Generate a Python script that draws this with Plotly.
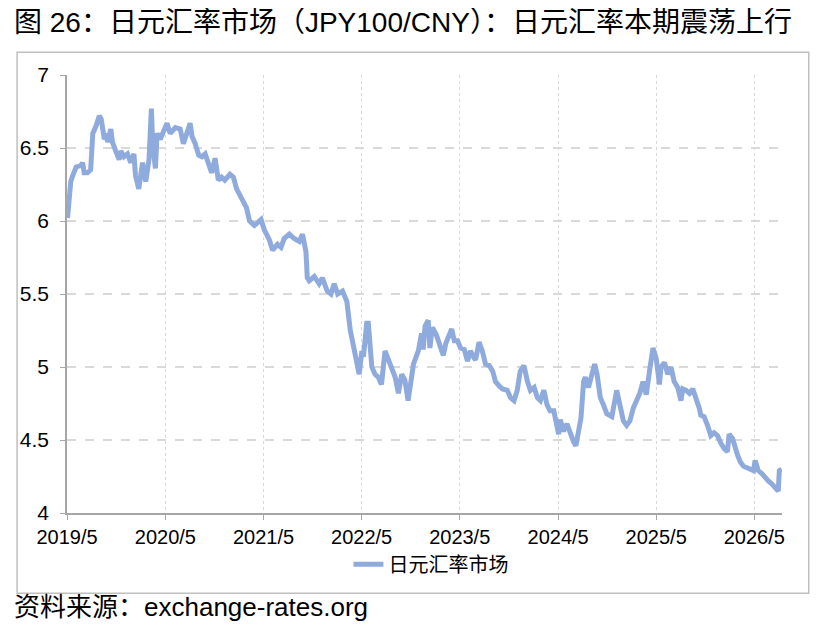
import plotly.graph_objects as go

# 日元汇率 (JPY100/CNY), values
dates = [
    "2019-05-03", "2019-05-09", "2019-05-15", "2019-05-22", "2019-06-04", "2019-06-22", "2019-06-28",
    "2019-07-04", "2019-07-16", "2019-07-28", "2019-08-05", "2019-08-17", "2019-08-29", "2019-09-05",
    "2019-09-11", "2019-09-17", "2019-09-23", "2019-09-29", "2019-10-11", "2019-10-17", "2019-10-29",
    "2019-11-11", "2019-11-17", "2019-11-29", "2019-12-12", "2019-12-24", "2020-01-05", "2020-01-11",
    "2020-01-23", "2020-02-06", "2020-02-18", "2020-03-01", "2020-03-10", "2020-03-15", "2020-03-25",
    "2020-03-31", "2020-04-12", "2020-04-24", "2020-05-07", "2020-05-19", "2020-06-07", "2020-06-25",
    "2020-07-07", "2020-07-25", "2020-08-01", "2020-08-08", "2020-08-20", "2020-09-02", "2020-09-14",
    "2020-09-26", "2020-10-08", "2020-10-20", "2020-11-02", "2020-11-14", "2020-11-26", "2020-12-08",
    "2020-12-27", "2021-01-09", "2021-01-21", "2021-02-09", "2021-02-27", "2021-03-10", "2021-03-28",
    "2021-04-10", "2021-04-22", "2021-05-04", "2021-05-23", "2021-06-04", "2021-06-22", "2021-07-05",
    "2021-07-17", "2021-08-05", "2021-08-23", "2021-09-11", "2021-09-23", "2021-10-06", "2021-10-11",
    "2021-10-18", "2021-11-06", "2021-11-24", "2021-12-06", "2021-12-24", "2022-01-07", "2022-01-19",
    "2022-02-01", "2022-02-19", "2022-03-01", "2022-03-07", "2022-03-20", "2022-04-01", "2022-04-13",
    "2022-04-22", "2022-05-02", "2022-05-08", "2022-05-20", "2022-05-26", "2022-06-08", "2022-06-20",
    "2022-07-02", "2022-07-14", "2022-07-27", "2022-08-08", "2022-08-20", "2022-09-03", "2022-09-15",
    "2022-09-27", "2022-10-09", "2022-10-21", "2022-11-10", "2022-11-28", "2022-12-10", "2022-12-16",
    "2022-12-23", "2023-01-04", "2023-01-10", "2023-01-19", "2023-02-03", "2023-02-17", "2023-03-01",
    "2023-03-10", "2023-03-23", "2023-04-01", "2023-04-11", "2023-04-23", "2023-05-04", "2023-05-18",
    "2023-05-30", "2023-06-10", "2023-06-24", "2023-06-29", "2023-07-12", "2023-07-24", "2023-08-05",
    "2023-08-19", "2023-09-01", "2023-09-11", "2023-09-25", "2023-10-07", "2023-10-25", "2023-11-06",
    "2023-11-19", "2023-12-01", "2023-12-12", "2023-12-26", "2024-01-08", "2024-01-19", "2024-02-02",
    "2024-02-14", "2024-02-25", "2024-03-09", "2024-03-21", "2024-04-01", "2024-04-15", "2024-04-27",
    "2024-05-03", "2024-05-09", "2024-05-21", "2024-06-03", "2024-06-15", "2024-06-27", "2024-07-06",
    "2024-07-16", "2024-07-25", "2024-08-04", "2024-08-10", "2024-08-22", "2024-09-04", "2024-09-14",
    "2024-09-23", "2024-10-05", "2024-10-17", "2024-10-29", "2024-11-17", "2024-11-29", "2024-12-05",
    "2024-12-17", "2024-12-30", "2025-01-11", "2025-01-23", "2025-02-05", "2025-02-18", "2025-03-01",
    "2025-03-13", "2025-03-25", "2025-04-06", "2025-04-19", "2025-05-01", "2025-05-13", "2025-05-19",
    "2025-06-01", "2025-06-13", "2025-06-25", "2025-07-07", "2025-07-20", "2025-08-01", "2025-08-08",
    "2025-08-20", "2025-09-02", "2025-09-14", "2025-09-26", "2025-10-08", "2025-10-14", "2025-10-26",
    "2025-11-08", "2025-11-20", "2025-12-02", "2025-12-15", "2025-12-27", "2026-01-09", "2026-01-21",
    "2026-01-27", "2026-02-09", "2026-02-18", "2026-02-27", "2026-03-10", "2026-03-22", "2026-04-04",
    "2026-04-16", "2026-04-28", "2026-05-04", "2026-05-16", "2026-05-29", "2026-06-10", "2026-06-22",
    "2026-07-05", "2026-07-17", "2026-07-29", "2026-08-02", "2026-08-11",
]
jpy_cny = [
    6.02, 6.17, 6.27, 6.31, 6.37, 6.38, 6.40,
    6.33, 6.33, 6.35, 6.60, 6.65, 6.72, 6.70,
    6.63, 6.56, 6.60, 6.54, 6.63, 6.54, 6.48,
    6.42, 6.48, 6.44, 6.46, 6.40, 6.46, 6.31,
    6.22, 6.40, 6.27, 6.42, 6.77, 6.52, 6.36,
    6.60, 6.56, 6.61, 6.67, 6.60, 6.64, 6.63,
    6.53, 6.63, 6.67, 6.58, 6.53, 6.45, 6.44,
    6.46, 6.39, 6.33, 6.43, 6.28, 6.30, 6.28,
    6.32, 6.30, 6.22, 6.15, 6.09, 6.00, 5.97,
    5.99, 6.01, 5.94, 5.87, 5.80, 5.84, 5.82,
    5.88, 5.91, 5.88, 5.86, 5.91, 5.79, 5.61,
    5.59, 5.62, 5.57, 5.61, 5.52, 5.50, 5.57,
    5.50, 5.52, 5.48, 5.45, 5.25, 5.14, 5.05,
    4.95, 5.11, 5.07, 5.30, 5.30, 5.00, 4.95,
    4.93, 4.88, 5.11, 5.05, 5.00, 4.93, 4.82,
    4.95, 4.91, 4.77, 5.02, 5.11, 5.23, 5.12,
    5.28, 5.32, 5.13, 5.27, 5.22, 5.13, 5.08,
    5.16, 5.22, 5.26, 5.18, 5.18, 5.13, 5.12,
    5.04, 5.11, 5.06, 5.05, 5.17, 5.11, 5.02,
    5.01, 4.97, 4.90, 4.87, 4.85, 4.84, 4.79,
    4.77, 4.84, 4.97, 5.01, 4.90, 4.84, 4.86,
    4.79, 4.77, 4.84, 4.74, 4.70, 4.70, 4.58,
    4.54, 4.64, 4.56, 4.61, 4.54, 4.49, 4.46,
    4.54, 4.65, 4.90, 4.93, 4.86, 4.95, 5.02,
    4.95, 4.79, 4.74, 4.68, 4.66, 4.77, 4.84,
    4.74, 4.63, 4.60, 4.63, 4.72, 4.77, 4.82,
    4.90, 4.81, 4.97, 5.13, 5.06, 4.88, 5.00,
    5.03, 4.95, 5.00, 4.90, 4.86, 4.77, 4.85,
    4.84, 4.82, 4.85, 4.79, 4.72, 4.67, 4.66,
    4.60, 4.53, 4.55, 4.53, 4.48, 4.44, 4.42,
    4.54, 4.51, 4.45, 4.40, 4.35, 4.32, 4.31,
    4.30, 4.29, 4.36, 4.29, 4.27, 4.24, 4.22,
    4.20, 4.18, 4.15, 4.29, 4.30,
]

tick_dates = ["2019-05-01", "2020-05-01", "2021-05-01", "2022-05-01",
              "2023-05-01", "2024-05-01", "2025-05-01", "2026-05-01"]
tick_labels = ["2019/5", "2020/5", "2021/5", "2022/5", "2023/5", "2024/5", "2025/5", "2026/5"]

FONT = "Liberation Sans, Arial, Noto Sans CJK SC, sans-serif"

fig = go.Figure()
fig.add_trace(go.Scatter(
    x=dates, y=jpy_cny,
    mode='lines', name='日元汇率市场',
    line=dict(color='#8faadc', width=5),
))

# page body has an 8px margin, so the figure is 8px smaller than the window
fig.update_layout(
    width=814, height=620,
    margin=dict(l=53, r=40, t=66.5, b=115.3),
    paper_bgcolor='white', plot_bgcolor='white',
    font=dict(family=FONT, size=20, color='black'),
    showlegend=True,
    legend=dict(orientation='h', x=0.509, xanchor='center', y=-0.117, yanchor='middle',
                font=dict(size=20), bgcolor='rgba(0,0,0,0)'),
    xaxis=dict(
        type='date', range=["2019-05-01", "2026-08-12"],
        tickvals=tick_dates, ticktext=tick_labels,
        ticks='outside', ticklen=5, tickcolor='#a6a6a6',
        showline=True, linecolor='#a6a6a6', linewidth=1.5,
        showgrid=True, gridcolor='#d9d9d9', griddash='dot', gridwidth=1,
        tickfont=dict(size=20), zeroline=False,
    ),
    yaxis=dict(
        range=[4, 7], dtick=0.5, tick0=4,
        ticks='outside', ticklen=5, tickcolor='#a6a6a6',
        showline=True, linecolor='#a6a6a6', linewidth=1.5,
        showgrid=True, gridcolor='#d9d9d9', griddash='dash', gridwidth=2,
        tickfont=dict(size=21), ticklabelstandoff=7, zeroline=False,
    ),
)

# outer frame around plot area and legend
fig.add_shape(type='rect', xref='paper', yref='paper',
              x0=-0.0698, x1=1.0374, y0=-0.1833, y1=1.052,
              line=dict(color='#bfbfbf', width=1.5), layer='below')

# title and source
fig.add_annotation(text='图 26：日元汇率市场（JPY100/CNY）：日元汇率本期震荡上行',
                   xref='paper', yref='paper', x=-0.0765, y=1.1205,
                   xanchor='left', yanchor='middle', showarrow=False,
                   font=dict(size=28, family=FONT))
fig.add_annotation(text='资料来源：exchange-rates.org',
                   xref='paper', yref='paper', x=-0.0765, y=-0.215,
                   xanchor='left', yanchor='middle', showarrow=False,
                   font=dict(size=26, family=FONT))

fig.write_html("out.html")
